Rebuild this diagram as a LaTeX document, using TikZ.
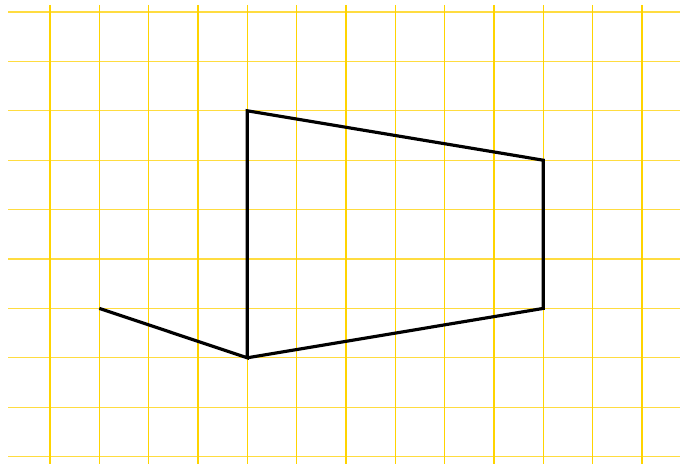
\documentclass[tikz,border=0pt]{standalone}
\usetikzlibrary{calc}
\definecolor{gridv}{HTML}{FFD400}
\definecolor{gridh}{HTML}{FFDC40}
\begin{document}
\begin{tikzpicture}[x=0.05cm,y=-0.05cm,
  vline/.style={draw=gridv,line width=1.5pt},
  hline/.style={draw=gridh,line width=1.6pt},
  outline/.style={draw=black,line width=4.5pt,line join=miter,line cap=butt}]
\useasboundingbox (0,0) rectangle (692,464);
\fill[white] (0,0) rectangle (692,464);
\foreach \k in {0,...,9}{
  \draw[hline] (8,{12+49.4*\k}) -- (680,{12+49.4*\k});
}
\foreach \k in {0,...,12}{
  \draw[vline] ({50+49.333*\k},5) -- ({50+49.333*\k},464);
}
\coordinate (A) at (99.3,308.4);
\coordinate (B) at (247.3,357.8);
\coordinate (C) at (247.3,110.8);
\coordinate (D) at (543.3,160.2);
\coordinate (E) at (543.3,308.4);
\draw[outline] (A) -- (B) -- (C) -- (D) -- (E) -- (B);
\end{tikzpicture}
\end{document}
